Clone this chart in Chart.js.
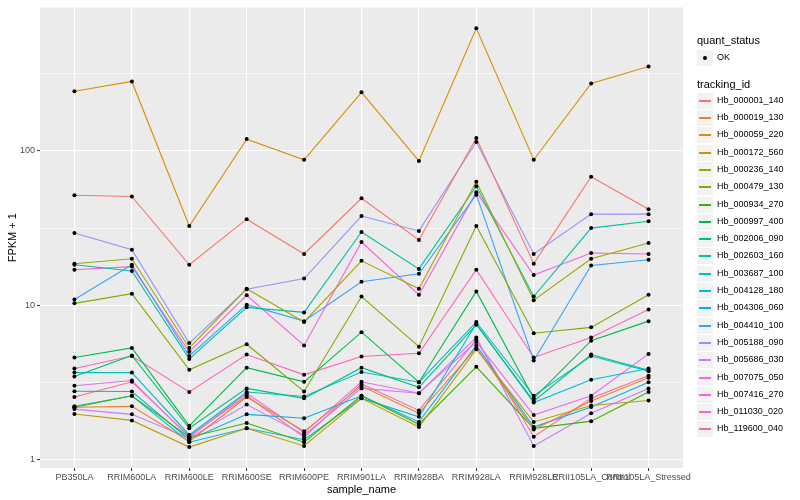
<!DOCTYPE html>
<html><head><meta charset="utf-8">
<script src="https://cdn.jsdelivr.net/npm/chart.js@4.4.1/dist/chart.umd.min.js"></script>
<style>
html,body{margin:0;padding:0;background:#fff;}
#wrap{position:relative;width:800px;height:500px;font-family:"Liberation Sans",Arial,Helvetica,sans-serif;}
canvas{position:absolute;left:0;top:0;}
.lg{position:absolute;color:#000;white-space:nowrap;line-height:1;}
.key{position:absolute;width:16px;height:16px;background:#F2F2F2;}
</style></head><body>
<div id="wrap"><canvas id="c" width="800" height="500"></canvas><div id="legend"></div></div>
<script>
// ---- data ----
const categories = ["PB350LA","RRIM600LA","RRIM600LE","RRIM600SE","RRIM600PE","RRIM901LA","RRIM928BA","RRIM928LA","RRIM928LE","RRII105LA_Control","RRII105LA_Stressed"];
const trackingIds = ["Hb_000001_140","Hb_000019_130","Hb_000059_220","Hb_000172_560","Hb_000236_140","Hb_000479_130","Hb_000934_270","Hb_000997_400","Hb_002006_090","Hb_002603_160","Hb_003687_100","Hb_004128_180","Hb_004306_060","Hb_004410_100","Hb_005188_090","Hb_005686_030","Hb_007075_050","Hb_007416_270","Hb_011030_020","Hb_119600_040"];
const seriesColors = ["#F8766D","#EA8331","#D89000","#C09B00","#A3A500","#7CAE00","#39B600","#00BB4E","#00BF7D","#00C1A3","#00BFC4","#00BAE0","#00B0F6","#35A2FF","#9590FF","#C77CFF","#E76BF3","#FA62DB","#FF62BC","#FF6C91"];
const quantStatus = ["OK"];
const yMajorTicks = [1, 10, 100];

const hb_000001_140 = [51.5, 50.6, 18.3, 36.1, 21.5, 49.3, 26.5, 121, 18.6, 68, 41.9];
const hb_000019_130 = [2.19, 2.22, 1.32, 2.55, 1.53, 3.0, 2.0, 5.3, 1.57, 2.4, 3.4];
const hb_000059_220 = [243, 281, 32.6, 119, 87.5, 239, 86, 620, 87.5, 273, 351];
const hb_000172_560 = [1.98, 1.8, 1.21, 1.6, 1.23, 2.5, 1.63, 5.2, 1.76, 2.25, 2.42];
const hb_000236_140 = [18.6, 20.0, 5.3, 12.8, 7.8, 19.4, 12.8, 63, 10.8, 20.0, 25.3];
const hb_000479_130 = [10.3, 11.9, 3.83, 5.6, 2.77, 11.4, 5.4, 32.6, 6.6, 7.2, 11.7];
const hb_000934_270 = [2.19, 2.6, 1.4, 1.73, 1.3, 2.6, 1.7, 4.0, 1.6, 1.78, 2.75];
const hb_000997_400 = [4.6, 5.3, 1.66, 3.95, 3.2, 6.7, 3.18, 12.3, 2.5, 5.9, 7.9];
const hb_002006_090 = [3.46, 4.74, 1.6, 2.9, 2.5, 3.95, 2.95, 7.5, 2.4, 4.8, 3.8];
const hb_002603_160 = [18.3, 16.7, 4.5, 9.7, 9.0, 29.8, 17.2, 59, 11.4, 31.6, 35];
const hb_003687_100 = [3.67, 3.67, 1.45, 2.75, 2.57, 3.7, 3.18, 7.8, 2.6, 4.7, 3.75];
const hb_004128_180 = [2.22, 2.6, 1.3, 1.6, 1.35, 2.5, 1.9, 7.6, 2.35, 3.3, 3.9];
const hb_004306_060 = [2.78, 2.77, 1.35, 1.97, 1.86, 2.6, 1.76, 5.5, 1.63, 2.2, 3.18];
const hb_004410_100 = [10.9, 18.3, 4.7, 10.1, 7.9, 14.2, 16.0, 52, 4.4, 18.1, 19.7];
const hb_005188_090 = [29.4, 22.9, 5.7, 12.7, 14.9, 37.8, 30.3, 114, 21.5, 38.9, 38.9];
const hb_005686_030 = [2.13, 1.97, 1.38, 2.28, 1.45, 2.9, 2.7, 6.2, 1.23, 2.0, 2.9];
const hb_007075_050 = [3.02, 3.26, 1.4, 2.7, 1.5, 3.2, 2.7, 5.8, 1.95, 2.6, 4.85];
const hb_007416_270 = [17.0, 17.8, 5.0, 11.6, 5.5, 25.7, 11.7, 54, 15.7, 21.8, 21.5];
const hb_011030_020 = [3.9, 4.7, 2.75, 4.8, 3.55, 4.67, 4.9, 17, 4.6, 6.2, 9.4];
const hb_119600_040 = [2.55, 3.2, 1.42, 2.6, 1.4, 3.1, 2.09, 6.0, 1.41, 2.5, 3.5];

const seriesValues = [hb_000001_140, hb_000019_130, hb_000059_220, hb_000172_560, hb_000236_140, hb_000479_130, hb_000934_270, hb_000997_400, hb_002006_090, hb_002603_160, hb_003687_100, hb_004128_180, hb_004306_060, hb_004410_100, hb_005188_090, hb_005686_030, hb_007075_050, hb_007416_270, hb_011030_020, hb_119600_040];

// ---- scales (ggplot-like expansion) ----
const FONT = '"Liberation Sans", Arial, Helvetica, sans-serif';
Chart.defaults.font.family = FONT;
const allVals = seriesValues.flat();
const lo = Math.log10(Math.min(...allVals)), hi = Math.log10(Math.max(...allVals));
const pad = (hi - lo) * 0.05;
const yMin = Math.pow(10, lo - pad), yMax = Math.pow(10, hi + pad);
const yTicks = [];
for (let e = Math.floor(lo - pad) - 1; e <= Math.ceil(hi + pad); e++) {
  [Math.pow(10, e), Math.pow(10, e + 0.5)].forEach(v => { if (v >= yMin && v <= yMax) yTicks.push(v); });
}
const isMajor = v => yMajorTicks.some(m => Math.abs(m - v) / m < 1e-6);

const datasets = [];
seriesValues.forEach((vals, k) => {
  const pts = vals.map((v, i) => ({x: i, y: v}));
  datasets.push({label: trackingIds[k], data: pts, borderColor: seriesColors[k], backgroundColor: seriesColors[k],
    borderWidth: 1.1, pointRadius: 0, pointHoverRadius: 0, tension: 0, fill: false, order: 1});
});
seriesValues.forEach((vals, k) => {
  const pts = vals.map((v, i) => ({x: i, y: v}));
  datasets.push({label: trackingIds[k] + ' pts', data: pts, showLine: false, pointRadius: 2, pointStyle: 'circle',
    pointBackgroundColor: '#000', pointBorderColor: '#000', pointBorderWidth: 0, order: 0});
});

const panelBg = {
  id: 'panelBg',
  beforeDraw(chart) {
    const {ctx, chartArea: a} = chart;
    ctx.save(); ctx.fillStyle = '#EBEBEB';
    ctx.fillRect(a.left, a.top, a.right - a.left, a.bottom - a.top);
    ctx.restore();
  }
};

new Chart(document.getElementById('c'), {
  type: 'line',
  data: {datasets},
  plugins: [panelBg],
  options: {
    responsive: false, animation: false, devicePixelRatio: 1,
    layout: {padding: {top: 5, right: 117, bottom: 0, left: 0}},
    plugins: {legend: {display: false}, tooltip: {enabled: false}},
    events: [],
    scales: {
      x: {
        type: 'linear', min: -0.6, max: categories.length - 1 + 0.6,
        afterBuildTicks: s => { s.ticks = categories.map((c, i) => ({value: i})); },
        afterFit: s => { s.height = 32; },
        ticks: {callback: v => categories[v], autoSkip: false, maxRotation: 0, minRotation: 0,
          color: '#4D4D4D', font: {size: 9}, padding: 1},
        grid: {color: '#FFFFFF', lineWidth: 1.1, tickColor: '#333333', tickLength: 3, tickWidth: 1},
        border: {display: false},
        title: {display: true, text: 'sample_name', color: '#000', font: {size: 11}, padding: {top: 0, bottom: 3}}
      },
      y: {
        type: 'logarithmic', min: yMin, max: yMax,
        afterBuildTicks: s => { s.ticks = yTicks.map(v => ({value: v})); },
        afterFit: s => { s.width = 40; },
        ticks: {callback: (v) => isMajor(v) ? String(Math.round(v)) : '', autoSkip: false,
          color: '#4D4D4D', font: {size: 9}, padding: 2},
        grid: {color: '#FFFFFF',
          lineWidth: c => (c.tick && isMajor(c.tick.value)) ? 1.1 : 0.55,
          tickColor: c => (c.tick && isMajor(c.tick.value)) ? '#333333' : 'rgba(0,0,0,0)',
          tickLength: 3, tickWidth: 1},
        border: {display: false},
        title: {display: true, text: 'FPKM + 1', color: '#000', font: {size: 11}, padding: {top: 6, bottom: 2}}
      }
    }
  }
});

// ---- legend (HTML text) ----
const lg = document.getElementById('legend');
function addText(txt, x, cy, size) {
  const d = document.createElement('div'); d.className = 'lg'; d.textContent = txt;
  d.style.left = x + 'px'; d.style.top = (cy - size * 0.55) + 'px'; d.style.fontSize = size + 'px';
  lg.appendChild(d);
}
addText('quant_status', 697, 41, 11);
quantStatus.forEach((q, i) => {
  const cy = 58 + i * 17.3;
  const k = document.createElement('div'); k.className = 'key';
  k.style.left = '697px'; k.style.top = Math.round(cy - 8) + 'px';
  const dot = document.createElement('div');
  dot.style.cssText = 'position:absolute;left:6px;top:6px;width:4px;height:4px;border-radius:2px;background:#000;';
  k.appendChild(dot); lg.appendChild(k);
  addText(q, 717, cy, 9);
});
addText('tracking_id', 697, 85, 11);
trackingIds.forEach((id, i) => {
  const cy = 100.7 + i * 17.3;
  const k = document.createElement('div'); k.className = 'key';
  k.style.left = '697px'; k.style.top = Math.round(cy - 8) + 'px';
  const ln = document.createElement('div');
  ln.style.cssText = 'position:absolute;left:2px;width:12px;top:7px;height:2px;background:' + seriesColors[i] + ';';
  k.appendChild(ln); lg.appendChild(k);
  addText(id, 717, cy, 9);
});
</script>
</body></html>
